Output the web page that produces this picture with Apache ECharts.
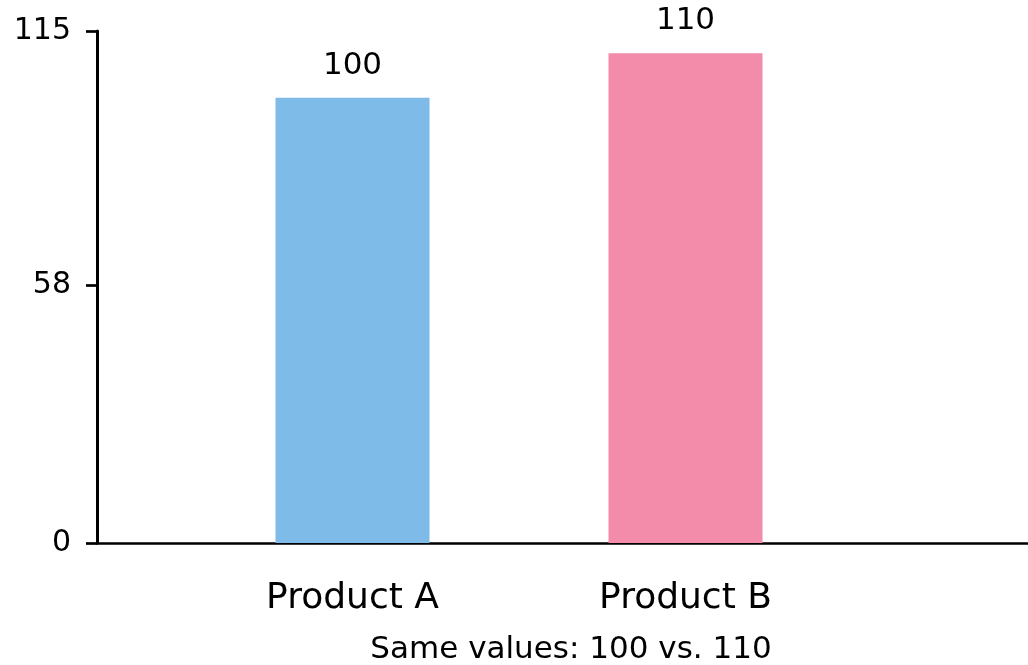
<!DOCTYPE html>
<html>
<head>
<meta charset="utf-8">
<title>Product A vs Product B</title>
<script src="https://cdn.jsdelivr.net/npm/echarts@6/dist/echarts.min.js"></script>
<style>
  html, body { margin: 0; padding: 0; background: #fff; }
  #chart { width: 1028px; height: 665px; }
</style>
</head>
<body>
<div id="chart"></div>
<script>
// Chart data
const categories = ['Product A', 'Product B'];
const values = [100, 110];
const barColors = ['#7fbbe8', '#f38baa'];
const yTicks = [0, 58, 115];
const yMax = 115;
const caption = 'Same values: 100 vs. 110';

const FONT = '"DejaVu Sans", Verdana, sans-serif';

const chart = echarts.init(document.getElementById('chart'), null, { renderer: 'canvas' });

chart.setOption({
  animation: false,
  backgroundColor: '#ffffff',
  textStyle: { fontFamily: FONT },
  title: {
    text: caption,
    left: 571,
    textAlign: 'center',
    top: 634,
    padding: 0,
    textStyle: { fontFamily: FONT, fontSize: 31, fontWeight: 'normal', color: '#000' }
  },
  grid: [
    // frame grid: carries the axis lines and the y ticks
    { left: 97, right: 0, top: 31, bottom: 122 },
    // plotting grid for the two bars
    { left: 186, right: 176, top: 31, bottom: 122 }
  ],
  xAxis: [
    {
      type: 'value', gridIndex: 0, min: 0, max: 1,
      axisLine: { show: true, lineStyle: { color: '#000', width: 2.7 } },
      axisTick: { show: false },
      axisLabel: { show: false },
      splitLine: { show: false }
    },
    {
      type: 'category', gridIndex: 1, data: categories,
      axisLine: { show: false },
      axisTick: { show: false },
      axisLabel: { fontFamily: FONT, fontSize: 36, color: '#000', margin: 38 },
      splitLine: { show: false }
    }
  ],
  yAxis: [
    {
      type: 'value', gridIndex: 0, min: 0, max: yMax,
      axisLine: { show: true, lineStyle: { color: '#000', width: 3 } },
      axisTick: { show: true, length: 11, customValues: yTicks, lineStyle: { color: '#000', width: 2.7 } },
      axisLabel: {
        customValues: yTicks, fontFamily: FONT, fontSize: 30, color: '#000',
        margin: 26, padding: [6, 0, 0, 0]
      },
      splitLine: { show: false }
    },
    {
      type: 'value', gridIndex: 1, min: 0, max: yMax, show: false,
      splitLine: { show: false }
    }
  ],
  series: [
    {
      type: 'bar',
      xAxisIndex: 1,
      yAxisIndex: 1,
      barWidth: 154,
      data: values.map((v, i) => ({ value: v, itemStyle: { color: barColors[i] } })),
      label: {
        show: true,
        position: 'top',
        distance: 16.5,
        fontFamily: FONT,
        fontSize: 31,
        color: '#000'
      }
    }
  ]
});
</script>
</body>
</html>
